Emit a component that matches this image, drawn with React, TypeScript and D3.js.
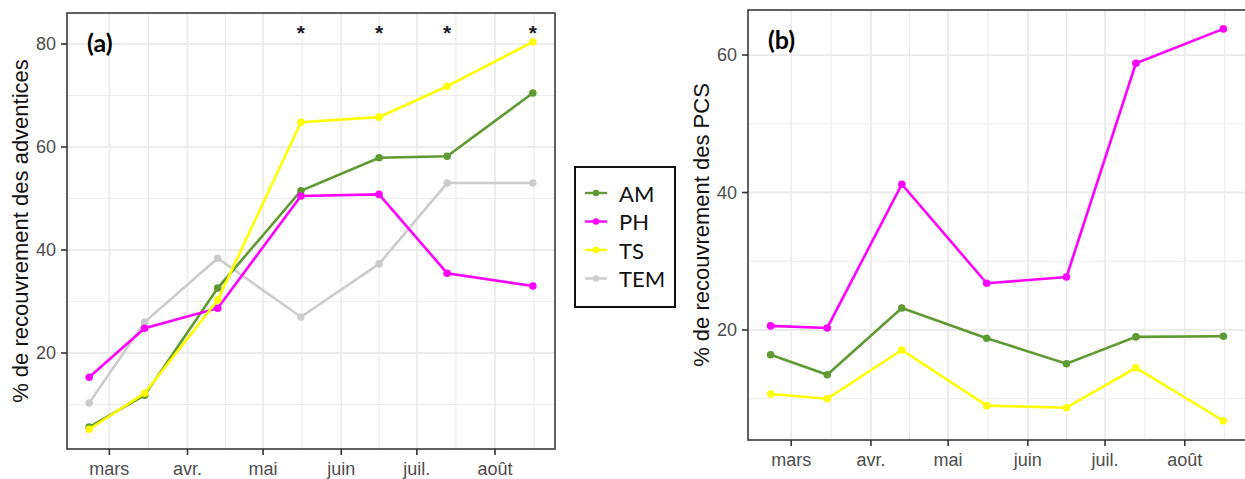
import React from "react";
import * as d3 from "d3";

// sampling dates (same for both panels)
const dates = ["2021-02-21", "2021-03-15", "2021-04-13", "2021-05-16", "2021-06-16", "2021-07-13", "2021-08-16"];
const monthTicks = ["2021-03-01", "2021-04-01", "2021-05-01", "2021-06-01", "2021-07-01", "2021-08-01", "2021-09-01"];
const monthLabels = ["mars", "avr.", "mai", "juin", "juil.", "août"];

// (a) % de recouvrement des adventices
const advAM = [5.6, 11.8, 32.6, 51.5, 57.9, 58.2, 70.5];
const advPH = [15.3, 24.8, 28.7, 50.5, 50.8, 35.5, 33.0];
const advTS = [5.2, 12.2, 30.3, 64.8, 65.8, 71.8, 80.4];
const advTEM = [10.3, 26.0, 38.4, 27.0, 37.3, 53.0, 53.0];
const signif = ["", "", "", "*", "*", "*", "*"];
const signifLevel = 82.3;

// (b) % de recouvrement des PCS
const pcsAM = [16.4, 13.5, 23.2, 18.8, 15.1, 19.0, 19.1];
const pcsPH = [20.6, 20.3, 41.2, 26.8, 27.7, 58.8, 63.8];
const pcsTS = [10.7, 10.0, 17.1, 9.0, 8.7, 14.5, 6.8];

const seriesNames = ["AM", "PH", "TS", "TEM"];
const colors: Record<string, string> = { AM: "#5e9a31", PH: "#ff00ff", TS: "#ffff00", TEM: "#cccccc" };

const parse = d3.timeParse("%Y-%m-%d");
const dateVals = dates.map(d => parse(d) as Date);
const majorDates = monthTicks.map(d => parse(d) as Date);

const ext = d3.extent(dateVals) as [Date, Date];
const pad = (ext[1].getTime() - ext[0].getTime()) * 0.05;
const xDomain: [Date, Date] = [new Date(ext[0].getTime() - pad), new Date(ext[1].getTime() + pad)];

const tickFont = "Liberation Sans, Arial, sans-serif";

function Panel({ left, top, right, bottom, yDomain, yMajor, yMinor, series, title, tag, stars }: any) {
  const x = d3.scaleTime().domain(xDomain).range([left, right]);
  const y = d3.scaleLinear().domain(yDomain).range([bottom, top]);
  const minorX = d3.pairs(majorDates).map(([a, b]) => new Date((a.getTime() + b.getTime()) / 2));
  const line = d3.line<number>().x((_, i) => x(dateVals[i])).y(v => y(v));
  const clipId = "clip-" + tag;
  return (
    <g>
      <clipPath id={clipId}>
        <rect x={left} y={top} width={right - left} height={bottom - top} />
      </clipPath>
      <rect x={left} y={top} width={right - left} height={bottom - top} fill="#fff" />
      <g clipPath={`url(#${clipId})`}>
        {yMinor.map((v: number) => (
          <line key={"ym" + v} x1={left} x2={right} y1={y(v)} y2={y(v)} stroke="#ececec" strokeWidth={1.1} />
        ))}
        {minorX.map((d, i) => (
          <line key={"xm" + i} x1={x(d)} x2={x(d)} y1={top} y2={bottom} stroke="#ececec" strokeWidth={1.1} />
        ))}
        {yMajor.map((v: number) => (
          <line key={"yM" + v} x1={left} x2={right} y1={y(v)} y2={y(v)} stroke="#ebebeb" strokeWidth={1.8} />
        ))}
        {majorDates.map((d, i) => (
          <line key={"xM" + i} x1={x(d)} x2={x(d)} y1={top} y2={bottom} stroke="#ebebeb" strokeWidth={1.8} />
        ))}
        {series.map((s: any) => (
          <g key={s.name}>
            <path d={line(s.values) || ""} fill="none" stroke={colors[s.name]} strokeWidth={2.6} />
            {s.values.map((v: number, i: number) => (
              <circle key={i} cx={x(dateVals[i])} cy={y(v)} r={3.8} fill={colors[s.name]} />
            ))}
          </g>
        ))}
      </g>
      {stars &&
        stars.map((s: string, i: number) =>
          s ? (
            <text key={"st" + i} x={x(dateVals[i])} y={y(signifLevel)} textAnchor="middle" dominantBaseline="central"
              fontFamily={tickFont} fontWeight="bold" fontSize={21} fill="#1a1a2a">{s}</text>
          ) : null
        )}
      <rect x={left} y={top} width={right - left} height={bottom - top} fill="none" stroke="#3a3a3a" strokeWidth={1.6} />
      {yMajor.map((v: number) => (
        <g key={"yt" + v}>
          <line x1={left - 6} x2={left} y1={y(v)} y2={y(v)} stroke="#333" strokeWidth={1.6} />
          <text x={left - 11} y={y(v)} textAnchor="end" dominantBaseline="central" fontFamily={tickFont}
            fontSize={18} fill="#4d4d4d">{v}</text>
        </g>
      ))}
      {majorDates.slice(0, monthLabels.length).map((d, i) => (
        <g key={"xt" + i}>
          <line x1={x(d)} x2={x(d)} y1={bottom} y2={bottom + 6} stroke="#333" strokeWidth={1.6} />
          <text x={x(d)} y={bottom + 26} textAnchor="middle" fontFamily={tickFont} fontSize={18} fill="#4d4d4d">
            {monthLabels[i]}
          </text>
        </g>
      ))}
      <text transform={`translate(${left - 39},${(top + bottom) / 2}) rotate(-90)`} textAnchor="middle"
        fontFamily={tickFont} fontSize={22} fill="#111">{title}</text>
      <text x={left + 20} y={top + 39} fontFamily="Lato, Open Sans, sans-serif" fontWeight="bold" fontSize={25}
        fill="#000">{`(${tag})`}</text>
    </g>
  );
}

function Legend({ x0, y0 }: { x0: number; y0: number }) {
  const step = 28.5;
  return (
    <g>
      <rect x={x0} y={y0} width={100} height={140} fill="#fff" stroke="#111" strokeWidth={2} />
      {seriesNames.map((n, i) => {
        const cy = y0 + 26 + i * step;
        return (
          <g key={n}>
            <line x1={x0 + 10} x2={x0 + 32} y1={cy} y2={cy} stroke={colors[n]} strokeWidth={2.4} />
            <circle cx={x0 + 21} cy={cy} r={3.2} fill={colors[n]} />
            <text x={x0 + 44} y={cy} dominantBaseline="central" fontFamily="Lato, Open Sans, sans-serif" fontSize={22}
              fill="#111">{n}</text>
          </g>
        );
      })}
    </g>
  );
}

export default function App() {
  return (
    <svg width={1245} height={479} style={{ position: "absolute", left: 0, top: 0, background: "#fff" }}>
      <rect width={1245} height={479} fill="#fff" />
      <Panel left={67} top={13} right={555} bottom={449} yDomain={[1.36, 86.02]} yMajor={[20, 40, 60, 80]}
        yMinor={[10, 30, 50, 70]} tag="a" title="% de recouvrement des adventices" stars={signif}
        series={[
          { name: "TEM", values: advTEM },
          { name: "AM", values: advAM },
          { name: "PH", values: advPH },
          { name: "TS", values: advTS },
        ]} />
      <Panel left={748} top={10} right={1246} bottom={440} yDomain={[4.0, 66.55]} yMajor={[20, 40, 60]}
        yMinor={[10, 30, 50]} tag="b" title="% de recouvrement des PCS"
        series={[
          { name: "AM", values: pcsAM },
          { name: "PH", values: pcsPH },
          { name: "TS", values: pcsTS },
        ]} />
      <Legend x0={575} y0={167} />
    </svg>
  );
}
